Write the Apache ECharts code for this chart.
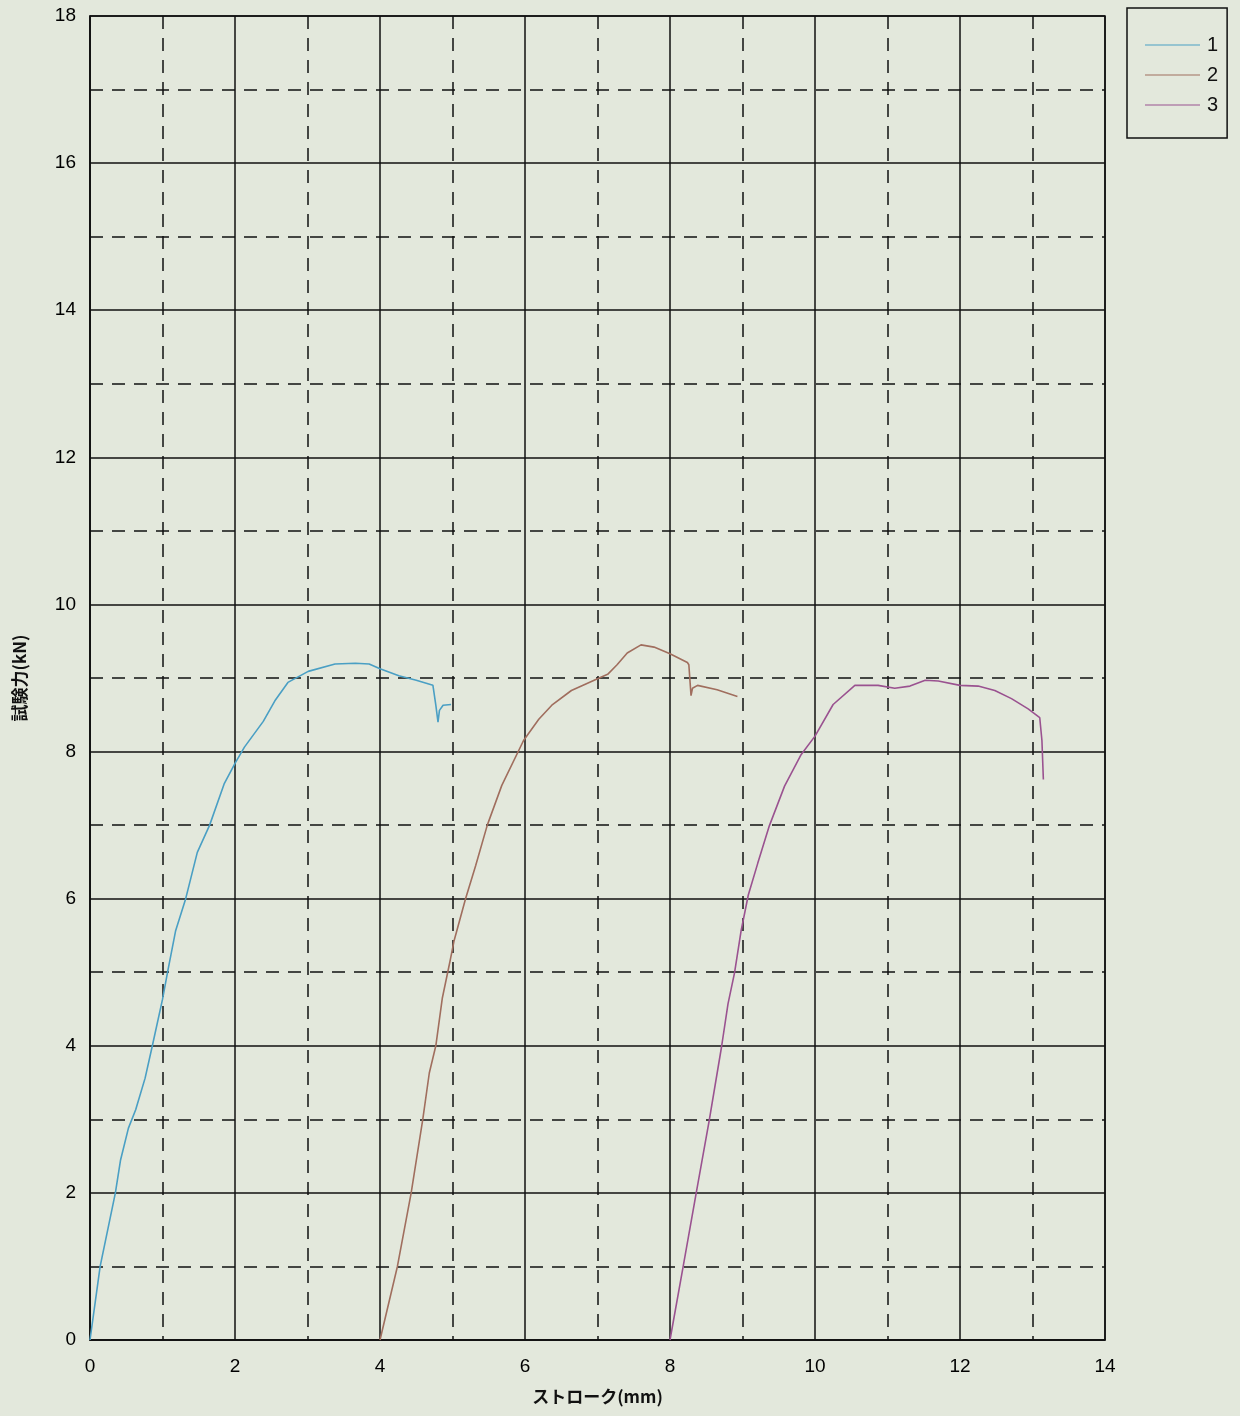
<!DOCTYPE html>
<html><head><meta charset="utf-8">
<script src="https://cdn.jsdelivr.net/npm/echarts@6/dist/echarts.min.js"></script>
<style>html,body{margin:0;padding:0;background:#e3e8dc;}#c{width:1240px;height:1416px;}</style>
</head><body><div id="c"></div>
<script>
const seriesNames = ['1', '2', '3'];
const colors = ['#4a9fc4', '#a06e5e', '#9a5290'];
const xTicks = [0, 2, 4, 6, 8, 10, 12, 14];
const yTicks = [0, 2, 4, 6, 8, 10, 12, 14, 16, 18];

const curve1 = [
  [0,0],[0.14,1.0],[0.35,2.0],[0.42,2.44],[0.53,2.88],[0.63,3.13],[0.76,3.56],[0.86,4.0],
  [1.0,4.63],[1.07,5.0],[1.18,5.56],[1.32,6.0],[1.48,6.63],[1.65,7.0],[1.85,7.56],[2.0,7.84],
  [2.13,8.06],[2.39,8.41],[2.55,8.69],[2.73,8.94],[3.01,9.09],[3.38,9.19],[3.66,9.2],[3.85,9.19],
  [4.0,9.125],[4.26,9.03],[4.5,8.97],[4.73,8.9],[4.75,8.875],[4.77,8.63],[4.8,8.4],[4.82,8.56],
  [4.87,8.63],[4.98,8.64]
];
const curve2 = [
  [4.0,0],[4.24,1.0],[4.43,2.0],[4.59,3.0],[4.68,3.63],[4.77,4.0],[4.86,4.65],[4.97,5.17],
  [5.02,5.42],[5.18,6.0],[5.32,6.45],[5.48,7.0],[5.68,7.54],[5.98,8.15],[6.19,8.44],[6.37,8.63],
  [6.64,8.83],[7.0,8.99],[7.14,9.05],[7.27,9.18],[7.41,9.34],[7.6,9.45],[7.78,9.42],[8.0,9.33],
  [8.24,9.21],[8.26,9.18],[8.29,8.76],[8.31,8.86],[8.38,8.9],[8.65,8.84],[8.93,8.75]
];
const curve3 = [
  [8.0,0],[8.18,0.99],[8.36,1.99],[8.54,2.98],[8.71,3.98],[8.8,4.57],[8.89,4.99],[8.98,5.56],
  [9.08,6.05],[9.21,6.48],[9.37,6.99],[9.58,7.53],[9.81,7.96],[10.0,8.21],[10.25,8.64],[10.55,8.9],
  [10.87,8.9],[11.1,8.86],[11.31,8.89],[11.52,8.97],[11.7,8.96],[12.0,8.9],[12.25,8.89],[12.48,8.83],
  [12.71,8.72],[12.94,8.58],[13.1,8.46],[13.13,8.15],[13.15,7.62]
];
const curves = [curve1, curve2, curve3];

const chart = echarts.init(document.getElementById('c'));
const labelFont = {color:'#000', fontSize:19, fontFamily:'Liberation Sans, Arial, sans-serif'};
const grid = {left:90, right:135, top:16, bottom:76, show:true, borderColor:'#111', borderWidth:1.5, backgroundColor:'transparent'};
function axisCommon(ticks, extra){
  return Object.assign({
    type:'value', min:ticks[0], max:ticks[ticks.length-1], interval:ticks[1]-ticks[0],
    axisLine:{show:true, lineStyle:{color:'#111', width:1.5}},
    axisTick:{show:false},
    minorTick:{show:false, splitNumber:2},
    splitLine:{show:true, lineStyle:{color:'#111', width:1.5}},
    minorSplitLine:{show:true, lineStyle:{color:'#111', width:1.5, type:[13,9]}},
    nameTextStyle:{color:'#111', fontSize:17, fontWeight:'bold', fontFamily:'Noto Sans CJK JP'}
  }, extra);
}
chart.setOption({
  backgroundColor:'#e3e8dc',
  animation:false,
  grid: grid,
  xAxis: axisCommon(xTicks, {
    name:'ストローク(mm)', nameLocation:'middle', nameGap:48,
    axisLabel:Object.assign({margin:17}, labelFont)
  }),
  yAxis: axisCommon(yTicks, {
    name:'試験力(kN)', nameLocation:'middle', nameGap:62, nameRotate:90,
    axisLabel:Object.assign({margin:14}, labelFont)
  }),
  legend:{
    orient:'vertical', left:1127, top:8,
    padding:[27, 9, 23, 18], itemGap:10,
    itemWidth:55, itemHeight:18,
    borderColor:'#111', borderWidth:1.5,
    textStyle:{color:'#111', fontSize:20, fontFamily:'Liberation Sans, Arial, sans-serif', padding:[0,0,0,2]},
    data: seriesNames.map((n,i)=>({name:n, icon:'path://M0,9 L55,9 L55,10.2 L0,10.2 Z', itemStyle:{color:colors[i]}}))
  },
  series: curves.map((d,i)=>({
    name:seriesNames[i], type:'line', data:d, showSymbol:false, symbol:'none',
    lineStyle:{color:colors[i], width:1.6}, itemStyle:{color:colors[i]}, z:5
  }))
});
</script></body></html>
